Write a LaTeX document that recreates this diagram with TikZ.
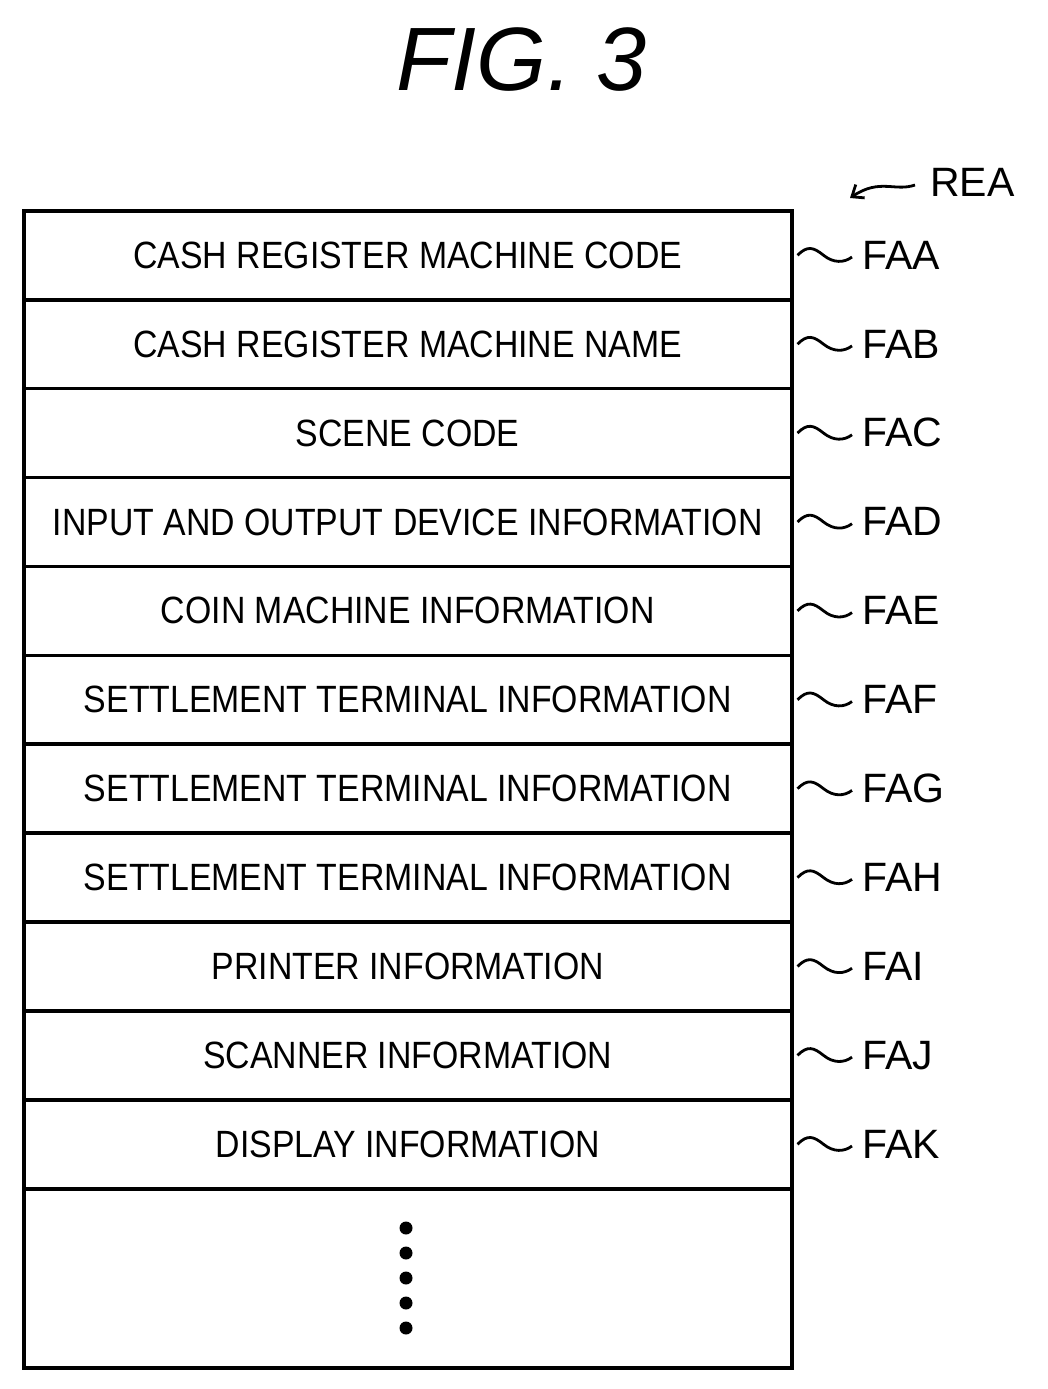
\documentclass[tikz,border=0pt]{standalone}
\usepackage{fontspec}
\setmainfont{Liberation Sans}
\usetikzlibrary{arrows.meta}
\begin{document}
\begin{tikzpicture}[x=1pt,y=-1pt,
  rowbox/.style={draw,line width=3.5pt,minimum width=768pt,minimum height=89pt,inner sep=0pt,anchor=north west},
  rowtext/.style={font=\fontsize{38}{40}\selectfont,xscale=0.89},
  lbl/.style={font=\fontsize{41}{42}\selectfont,anchor=west,inner sep=0pt},
  sq/.style={line width=2.8pt}]
\useasboundingbox (0,0) rectangle (1047,1389);
\node[font=\fontsize{90}{90}\selectfont\itshape] (title) at (522,60) {FIG. 3};
\def\rows{CASH REGISTER MACHINE CODE/FAA,CASH REGISTER MACHINE NAME/FAB,SCENE CODE/FAC,INPUT AND OUTPUT DEVICE INFORMATION/FAD,COIN MACHINE INFORMATION/FAE,SETTLEMENT TERMINAL INFORMATION/FAF,SETTLEMENT TERMINAL INFORMATION/FAG,SETTLEMENT TERMINAL INFORMATION/FAH,PRINTER INFORMATION/FAI,SCANNER INFORMATION/FAJ,DISPLAY INFORMATION/FAK}
\foreach [count=\i] \t/\l in \rows {
  \pgfmathsetmacro\yy{209+(\i-1)*88.9}
  \node[rowbox] (r\i) at (22,\yy) {};
  \node[rowtext] (t\i) at (r\i.center) {\t};
  \node[lbl] (l\i) at (862,\yy+46) {\l};
  \coordinate (s\i) at ([xshift=4pt]r\i.east);
  \draw[sq] (s\i) .. controls +(10,-10) and +(-10,-8) .. +(26,0) .. controls +(10,8) and +(-8,6) .. ([xshift=-10pt,yshift=-2pt]l\i.west);
}
\node[draw,line width=3.5pt,minimum width=768pt,minimum height=179pt,inner sep=0pt,anchor=north west] (rest) at (22,1187) {};
\foreach \k in {0,...,4} \fill (406,1228+\k*25) circle (6.5pt);
\node[lbl] (rea) at (930,182) {REA};
\coordinate (rs) at (915,185);
\draw[sq,-{Straight Barb[length=10pt,width=16pt,line width=2.8pt]}] (rs) .. controls (895,192) and (880,178) .. (850,198);
\end{tikzpicture}
\end{document}
